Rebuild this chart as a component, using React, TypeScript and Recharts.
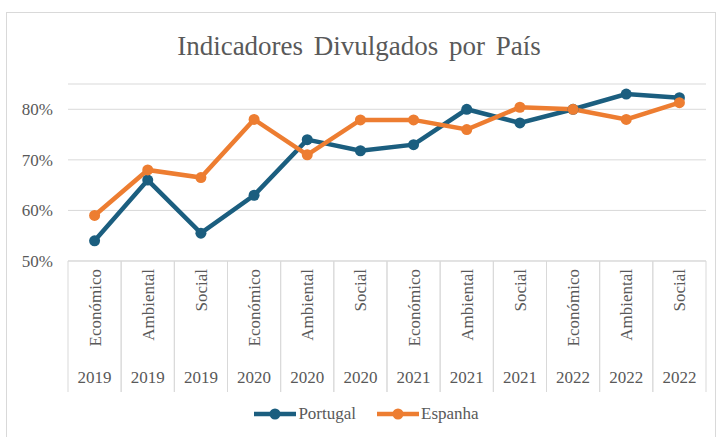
import { LineChart, Line, XAxis, YAxis, CartesianGrid, Legend } from "recharts";

const categories = [
  "Económico", "Ambiental", "Social",
  "Económico", "Ambiental", "Social",
  "Económico", "Ambiental", "Social",
  "Económico", "Ambiental", "Social",
];
const years = [
  "2019", "2019", "2019",
  "2020", "2020", "2020",
  "2021", "2021", "2021",
  "2022", "2022", "2022",
];
const portugal = [54, 66, 55.5, 63, 74, 71.8, 73, 80, 77.3, 80, 83, 82.3];
const espanha = [59, 68, 66.5, 78, 71, 77.9, 77.9, 76, 80.4, 80, 78, 81.3];
const yTicks = [50, 60, 70, 80];

const COLORS = {
  portugal: "#1b5e7f",
  espanha: "#ed7d31",
};

const FONT = "Liberation Serif, DejaVu Serif, serif";
const TEXT = "#595959";
const GRID = "#d9d9d9";

const W = 718;
const H = 437;
const PLOT_LEFT = 68;
const PLOT_RIGHT = 706;
const BAND = (PLOT_RIGHT - PLOT_LEFT) / categories.length;

const data = categories.map((c, i) => ({
  key: `${c}-${years[i]}`,
  category: c,
  year: years[i],
  Portugal: portugal[i],
  Espanha: espanha[i],
}));

function CategoryTick(props: any) {
  const { x, y, index } = props;
  const d = data[index];
  if (!d) return null;
  return (
    <g>
      <line x1={x - BAND / 2} x2={x - BAND / 2} y1={y} y2={y + 131} stroke={GRID} />
      <line x1={x + BAND / 2} x2={x + BAND / 2} y1={y} y2={y + 131} stroke={GRID} />
      <text
        x={x}
        y={y + 8}
        transform={`rotate(-90, ${x}, ${y + 8})`}
        textAnchor="end"
        dy="0.35em"
        fill={TEXT}
        fontSize={17}
        fontFamily={FONT}
      >
        {d.category}
      </text>
      <text x={x} y={y + 122} textAnchor="middle" fill={TEXT} fontSize={17} fontFamily={FONT}>
        {d.year}
      </text>
    </g>
  );
}

function LegendContent() {
  const items = [
    { name: "Portugal", color: COLORS.portugal },
    { name: "Espanha", color: COLORS.espanha },
  ];
  return (
    <div style={{ display: "flex", justifyContent: "center", gap: 21, paddingLeft: 21, paddingTop: 5 }}>
      {items.map((it) => (
        <div key={it.name} style={{ display: "flex", alignItems: "center" }}>
          <svg width={42} height={14}>
            <line x1={0} x2={42} y1={7} y2={7} stroke={it.color} strokeWidth={4.5} strokeLinecap="round" />
            <circle cx={21} cy={7} r={5.5} fill={it.color} />
          </svg>
          <span style={{ marginLeft: 2, fontFamily: FONT, fontSize: 17, color: TEXT }}>{it.name}</span>
        </div>
      ))}
    </div>
  );
}

export default function App() {
  return (
    <div style={{ position: "relative", width: W, height: H, background: "#fff", overflow: "hidden" }}>
      <style>{`body{margin:0}`}</style>
      <div
        style={{
          position: "absolute",
          left: 6,
          top: 12,
          width: 708,
          height: 440,
          border: `1px solid ${GRID}`,
        }}
      />
      <div
        style={{
          position: "absolute",
          left: 0,
          width: W,
          top: 31,
          textAlign: "center",
          fontFamily: FONT,
          fontSize: 27,
          wordSpacing: 4,
          color: TEXT,
        }}
      >
        Indicadores Divulgados por País
      </div>
      <div style={{ position: "absolute", left: 0, top: 0 }}>
        <LineChart
          width={W}
          height={H}
          data={data}
          margin={{ top: 84, right: W - PLOT_RIGHT, bottom: 8, left: 6 }}
        >
          <CartesianGrid vertical={false} stroke={GRID} />
          <XAxis
            dataKey="key"
            height={138}
            interval={0}
            padding={{ left: BAND / 2, right: BAND / 2 }}
            tickLine={false}
            tickSize={0}
            tickMargin={0}
            axisLine={{ stroke: GRID }}
            tick={<CategoryTick />}
          />
          <YAxis
            width={PLOT_LEFT - 6}
            domain={[50, 85]}
            ticks={yTicks}
            tickFormatter={(v) => `${v}%`}
            axisLine={false}
            tickLine={false}
            tickSize={0}
            tickMargin={15}
            tick={{ fill: TEXT, fontSize: 17, fontFamily: FONT }}
          />
          <Legend verticalAlign="bottom" height={30} content={<LegendContent />} />
          <Line
            dataKey="Portugal"
            stroke={COLORS.portugal}
            strokeWidth={4.5}
            dot={{ r: 5.5, fill: COLORS.portugal, stroke: COLORS.portugal, strokeWidth: 0 }}
            activeDot={false}
            isAnimationActive={false}
          />
          <Line
            dataKey="Espanha"
            stroke={COLORS.espanha}
            strokeWidth={4.5}
            dot={{ r: 5.5, fill: COLORS.espanha, stroke: COLORS.espanha, strokeWidth: 0 }}
            activeDot={false}
            isAnimationActive={false}
          />
        </LineChart>
      </div>
    </div>
  );
}
